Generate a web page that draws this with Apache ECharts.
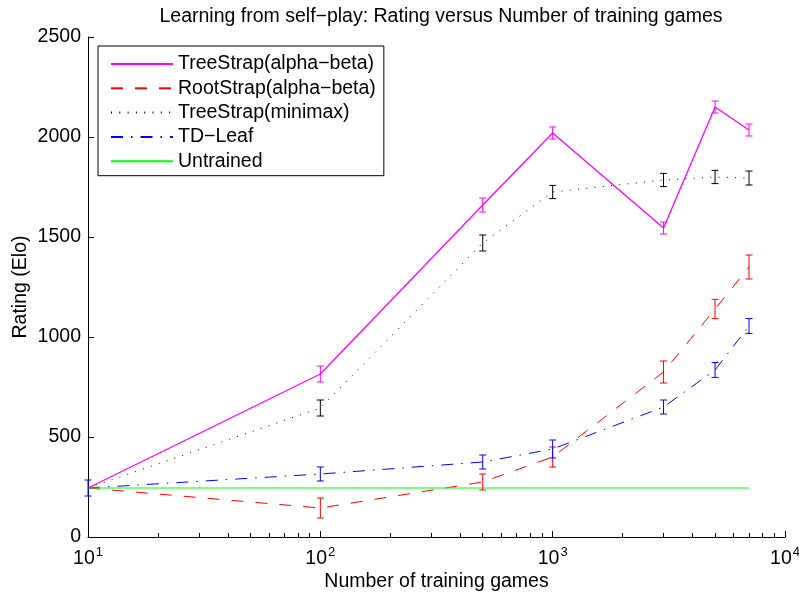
<!DOCTYPE html>
<html>
<head>
<meta charset="utf-8">
<script src="https://cdn.jsdelivr.net/npm/echarts@6/dist/echarts.min.js"></script>
<style>
html,body{margin:0;padding:0;background:#fff;}
#chart{width:799px;height:597px;}
</style>
</head>
<body>
<div id="chart"></div>
<script>
// ---- data ----
const games = [10, 100, 500, 1000, 3000, 5000, 7000];
const treeStrapAB = [245, 815, 1660, 2020, 1545, 2150, 2035];
const treeStrapABErr = [null, 40, 35, 30, 30, 30, 30];
const rootStrapAB = [245, 145, 275, 400, 825, 1140, 1350];
const rootStrapABErr = [null, 50, 40, 50, 55, 48, 60];
const treeStrapMM = [245, 645, 1470, 1725, 1785, 1800, 1795];
const treeStrapMMErr = [null, 40, 40, 33, 33, 33, 35];
const tdLeaf = [245, 315, 375, 440, 650, 835, 1055];
const tdLeafErr = [40, 35, 35, 45, 35, 37, 37];
const untrainedGames = [10, 7000];
const untrained = [245, 245];
const seriesNames = ['TreeStrap(alpha\u2212beta)', 'RootStrap(alpha\u2212beta)', 'TreeStrap(minimax)', 'TD\u2212Leaf', 'Untrained'];
const yTicks = [0, 500, 1000, 1500, 2000, 2500];
const minorTicks = [20,30,40,50,60,70,80,90,200,300,400,500,600,700,800,900,2000,3000,4000,5000,6000,7000,8000,9000];

const FONT = '"Liberation Sans", Arial, Helvetica, sans-serif';
const FS = 19.5;

function pairs(xs, ys) { return xs.map((x, i) => [x, ys[i]]); }
function errData(xs, ys, es) {
  const out = [];
  xs.forEach((x, i) => { if (es[i] != null) out.push([x, ys[i], es[i]]); });
  return out;
}
function errSeries(name, color, xs, ys, es) {
  return {
    name: name + ' err',
    type: 'custom',
    xAxisIndex: 0, yAxisIndex: 0,
    data: errData(xs, ys, es),
    encode: { x: 0, y: 1 },
    z: 3,
    silent: true,
    renderItem: function (params, api) {
      const x = api.value(0), y = api.value(1), e = api.value(2);
      const lo = api.coord([x, y - e]);
      const hi = api.coord([x, y + e]);
      const w = 3.5;
      const st = { stroke: color, lineWidth: 1 };
      return {
        type: 'group',
        children: [
          { type: 'line', shape: { x1: lo[0], y1: lo[1], x2: hi[0], y2: hi[1] }, style: st },
          { type: 'line', shape: { x1: lo[0] - w, y1: lo[1], x2: lo[0] + w, y2: lo[1] }, style: st },
          { type: 'line', shape: { x1: hi[0] - w, y1: hi[1], x2: hi[0] + w, y2: hi[1] }, style: st }
        ]
      };
    }
  };
}
function lineSeries(name, color, type, width, xs, ys) {
  return {
    name: name,
    type: 'line',
    data: pairs(xs, ys),
    symbol: 'none',
    lineStyle: { color: color, width: width, type: type },
    itemStyle: { color: color },
    z: 2
  };
}

const chart = echarts.init(document.getElementById('chart'), null, { renderer: 'canvas' });
chart.setOption({
  animation: false,
  backgroundColor: '#fff',
  textStyle: { fontFamily: FONT },
  title: {
    text: 'Learning from self\u2212play: Rating versus Number of training games',
    left: 436, top: 2, textAlign: 'center',
    textStyle: { fontSize: FS, fontWeight: 'normal', color: '#000', fontFamily: FONT }
  },
  grid: { left: 88, right: 14, top: 37, bottom: 60, outerBoundsMode: 'none', containLabel: false },
  legend: {
    data: seriesNames,
    orient: 'vertical',
    left: 98, top: 46,
    padding: [8, 8, 4.5, 12],
    itemWidth: 62, itemHeight: 14, itemGap: 4.3,
    borderColor: '#000', borderWidth: 1,
    backgroundColor: '#fff',
    itemStyle: { opacity: 0 },
    textStyle: { fontSize: FS, color: '#000', fontFamily: FONT, lineHeight: 19.5 },
    selectedMode: false
  },
  xAxis: [
    {
      type: 'log', logBase: 10, min: 10, max: 10000,
      name: 'Number of training games', nameLocation: 'middle', nameGap: 35,
      nameMoveOverlap: false,
      nameTextStyle: { fontSize: FS, color: '#000', fontFamily: FONT },
      axisLine: { lineStyle: { color: '#000', width: 1 } },
      axisTick: { inside: true, length: 6, lineStyle: { color: '#000' } },
      splitLine: { show: false },
      axisLabel: {
        margin: 9,
        color: '#000',
        formatter: function (v) {
          return '{b|10}{s|' + Math.round(Math.log10(v)) + '}';
        },
        rich: {
          b: { fontSize: FS, color: '#000', fontFamily: FONT },
          s: { fontSize: 13, color: '#000', fontFamily: FONT, padding: [0, 0, 13, 1] }
        }
      }
    },
    {
      type: 'log', logBase: 10, min: 10, max: 10000,
      position: 'bottom',
      axisLine: { show: false },
      axisLabel: { show: false },
      splitLine: { show: false },
      axisTick: { show: true, inside: true, length: 4, customValues: minorTicks, lineStyle: { color: '#000' } }
    }
  ],
  yAxis: {
    type: 'value', min: 0, max: 2500, interval: 500,
    name: 'Rating (Elo)', nameLocation: 'middle', nameGap: 57,
    nameMoveOverlap: false,
    nameTextStyle: { fontSize: FS, color: '#000', fontFamily: FONT },
    axisLine: { show: true, lineStyle: { color: '#000', width: 1 } },
    axisTick: { show: true, inside: true, length: 6, lineStyle: { color: '#000' } },
    splitLine: { show: false },
    axisLabel: { fontSize: FS, color: '#000', margin: 7, fontFamily: FONT,
      formatter: function (v) { return String(v); } }
  },
  series: [
    lineSeries(seriesNames[0], '#ff00ff', 'solid', 1.3, games, treeStrapAB),
    lineSeries(seriesNames[1], '#ff0000', [12, 12], 1, games, rootStrapAB),
    lineSeries(seriesNames[2], '#000000', [1, 7.3], 1, games, treeStrapMM),
    lineSeries(seriesNames[3], '#0000ff', [12, 8, 1.5, 8], 1, games, tdLeaf),
    lineSeries(seriesNames[4], '#00ff00', 'solid', 1, untrainedGames, untrained),
    errSeries(seriesNames[0], '#ff00ff', games, treeStrapAB, treeStrapABErr),
    errSeries(seriesNames[1], '#ff0000', games, rootStrapAB, rootStrapABErr),
    errSeries(seriesNames[2], '#000000', games, treeStrapMM, treeStrapMMErr),
    errSeries(seriesNames[3], '#0000ff', games, tdLeaf, tdLeafErr)
  ]
});
</script>
</body>
</html>
